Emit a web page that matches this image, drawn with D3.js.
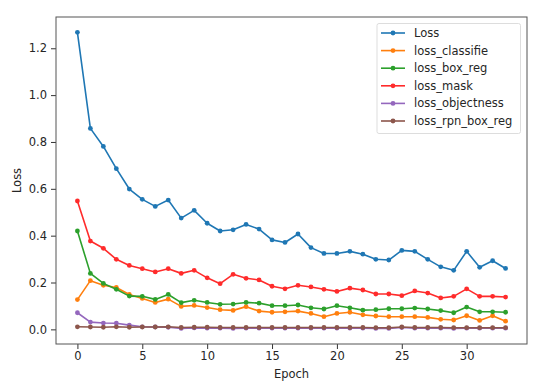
<!DOCTYPE html>
<html><head><meta charset="utf-8">
<script src="https://cdn.jsdelivr.net/npm/d3@7"></script>
<style>body{margin:0;background:#fff}svg{display:block;font-family:"DejaVu Sans",sans-serif}</style>
</head><body><svg id="c" width="550" height="391"></svg>
<script>
const epochs = d3.range(0, 34);
const seriesNames = ["Loss","loss_classifie","loss_box_reg","loss_mask","loss_objectness","loss_rpn_box_reg"];
const seriesColors = ["#1f77b4","#ff7f0e","#2ca02c","#ff2b2b","#9467bd","#8c564b"];
const lossTotal = [1.268,0.858,0.781,0.686,0.599,0.555,0.525,0.552,0.475,0.508,0.453,0.420,0.425,0.448,0.428,0.382,0.371,0.407,0.349,0.324,0.324,0.333,0.321,0.299,0.296,0.337,0.333,0.299,0.267,0.252,0.333,0.265,0.293,0.260];
const lossClassifier = [0.127,0.208,0.188,0.179,0.149,0.132,0.115,0.129,0.098,0.102,0.093,0.084,0.081,0.097,0.078,0.073,0.075,0.078,0.068,0.054,0.068,0.073,0.062,0.057,0.054,0.054,0.054,0.051,0.043,0.040,0.058,0.038,0.058,0.035];
const lossBoxReg = [0.420,0.239,0.196,0.171,0.142,0.141,0.128,0.149,0.114,0.124,0.115,0.107,0.108,0.115,0.112,0.101,0.101,0.104,0.092,0.087,0.101,0.092,0.082,0.084,0.088,0.088,0.091,0.087,0.080,0.071,0.095,0.075,0.075,0.073];
const lossMask = [0.548,0.377,0.346,0.299,0.273,0.259,0.245,0.259,0.239,0.252,0.220,0.195,0.235,0.218,0.211,0.184,0.173,0.188,0.181,0.171,0.162,0.176,0.168,0.151,0.151,0.144,0.164,0.155,0.134,0.141,0.173,0.141,0.141,0.138];
const lossObjectness = [0.071,0.031,0.027,0.026,0.018,0.011,0.010,0.009,0.004,0.006,0.005,0.005,0.004,0.005,0.005,0.005,0.005,0.005,0.005,0.005,0.005,0.005,0.005,0.004,0.004,0.008,0.005,0.005,0.005,0.004,0.005,0.005,0.005,0.005];
const lossRpnBoxReg = [0.011,0.010,0.009,0.011,0.009,0.010,0.010,0.011,0.008,0.009,0.009,0.008,0.008,0.008,0.008,0.008,0.008,0.008,0.008,0.008,0.008,0.008,0.008,0.007,0.007,0.010,0.008,0.008,0.008,0.007,0.007,0.007,0.007,0.007];
const xTicks = [0,5,10,15,20,25,30];
const yTicks = [0.0,0.2,0.4,0.6,0.8,1.0,1.2];

const seriesData = [lossTotal, lossClassifier, lossBoxReg, lossMask, lossObjectness, lossRpnBoxReg];

const FS = 11.5;
const svg = d3.select("#c");
const L = 56, T = 17, R = 527, B = 344;
const x = d3.scaleLinear().domain([-1.65, 34.65]).range([L, R]);
const y = d3.scaleLinear().domain([-0.0625, 1.3335]).range([B, T]);

const xa = svg.append("g").attr("transform", `translate(0,${B})`)
  .call(d3.axisBottom(x).tickValues(xTicks).tickFormat(d3.format("d")).tickSize(5).tickPadding(3));
const ya = svg.append("g").attr("transform", `translate(${L},0)`)
  .call(d3.axisLeft(y).tickValues(yTicks).tickFormat(d3.format(".1f")).tickSize(5).tickPadding(4));
[xa, ya].forEach(a => {
  a.select(".domain").remove();
  a.selectAll("text").attr("font-size", FS).attr("fill", "#262626").attr("font-family", "DejaVu Sans");
  a.selectAll("line").attr("stroke", "#333");
});

const line = d3.line().x((d, i) => x(epochs[i])).y(d => y(d));
seriesData.forEach((vals, si) => {
  const g = svg.append("g");
  g.append("path").datum(vals).attr("d", line).attr("fill", "none")
    .attr("stroke", seriesColors[si]).attr("stroke-width", 1.6).attr("stroke-linejoin", "round");
  g.selectAll("circle").data(vals).join("circle")
    .attr("cx", (d, i) => x(epochs[i])).attr("cy", d => y(d)).attr("r", 2.4)
    .attr("fill", seriesColors[si]);
});

svg.append("rect").attr("x", L).attr("y", T).attr("width", R - L).attr("height", B - T)
  .attr("fill", "none").attr("stroke", "#555").attr("stroke-width", 1);

const lg = svg.append("g");
lg.append("rect").attr("x", 377).attr("y", 23.5).attr("width", 143.5).attr("height", 110)
  .attr("rx", 2).attr("fill", "#fff").attr("fill-opacity", 0.8).attr("stroke", "#ddd").attr("stroke-width", 1);
seriesNames.forEach((n, i) => {
  const yy = 33 + i * 17.6;
  lg.append("line").attr("x1", 381).attr("x2", 405).attr("y1", yy).attr("y2", yy)
    .attr("stroke", seriesColors[i]).attr("stroke-width", 1.6);
  lg.append("circle").attr("cx", 393).attr("cy", yy).attr("r", 2.4).attr("fill", seriesColors[i]);
  lg.append("text").attr("x", 414).attr("y", yy).attr("dy", "0.35em").attr("font-size", FS)
    .attr("fill", "#262626").text(n);
});

svg.append("text").attr("x", (L + R) / 2).attr("y", 378).attr("text-anchor", "middle")
  .attr("font-size", FS).attr("fill", "#262626").text("Epoch");
svg.append("text").attr("transform", `translate(21,${(T + B) / 2}) rotate(-90)`).attr("text-anchor", "middle")
  .attr("font-size", FS).attr("fill", "#262626").text("Loss");
</script></body></html>
